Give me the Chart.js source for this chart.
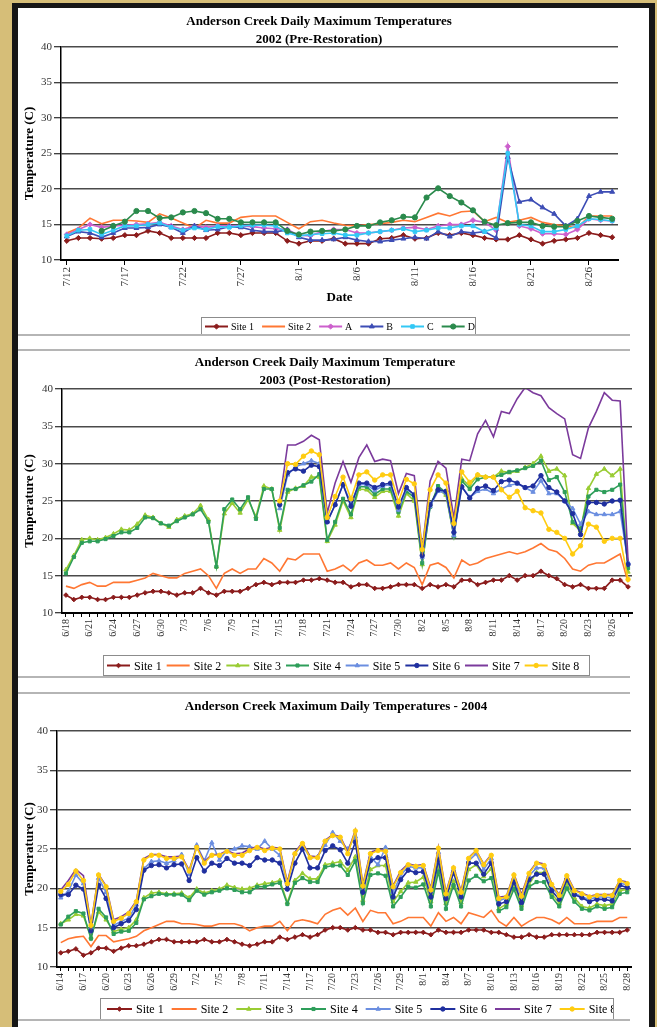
<!DOCTYPE html>
<html>
<head>
<meta charset="utf-8">
<script src="https://cdn.jsdelivr.net/npm/chart.js@4.4.0/dist/chart.umd.min.js"></script>
<style>
  html, body { margin: 0; padding: 0; }
  body { width: 657px; height: 1027px; background: #d6be78; position: relative; overflow: hidden; }
  #frame { position: absolute; left: 12px; top: 3px; width: 631px; height: 1040px; background: #fff;
           border-style: solid; border-color: #161616; border-width: 5px 6px 0 6px; }
  canvas { position: absolute; left: 18px; }
  .sep { position: absolute; left: 18px; width: 612px; height: 2px; background: #b5b5b5; }
</style>
</head>
<body>
<div id="frame"></div>
<canvas id="c2002" width="631" height="327" style="top:8px"></canvas>
<canvas id="c2003" width="631" height="327" style="top:350px"></canvas>
<canvas id="c2004" width="631" height="327" style="top:693px"></canvas>
<div class="sep" style="top:334px"></div>
<div class="sep" style="top:349px"></div>
<div class="sep" style="top:676px"></div>
<div class="sep" style="top:692px"></div>
<div class="sep" style="top:1019px"></div>
<script>
// ---------- 2002 (7/12 - 8/28) ----------
const site1_2002 = [12.7,13.1,13.1,13.0,13.1,13.5,13.5,14.1,13.8,13.1, 13.1,13.1,13.1,13.8,13.8,13.5,13.8,13.8,13.8,12.7,
  12.3,12.7,12.7,13.0,12.3,12.3,12.3,13.0,13.1,13.5, 13.0,13.1,13.8,13.5,13.8,13.5,13.1,12.9,12.9,13.5,
  12.9,12.3,12.7,12.9,13.1,13.8,13.5,13.2];
const site2_2002 = [13.8,14.5,15.9,15.1,15.6,15.6,15.5,15.3,16.5,15.9, 15.2,14.5,15.6,15.2,15.2,16.0,16.2,16.2,16.2,15.3,
  14.4,15.4,15.6,15.2,14.9,14.8,15.0,15.1,15.3,15.6, 15.4,16.0,16.6,16.2,16.8,16.9,15.4,16.0,15.3,15.6,
  16.0,15.3,15.0,14.8,14.5,16.2,16.2,16.2];
const siteA_2002 = [13.6,14.3,15.0,14.6,14.8,14.9,15.0,15.1,15.3,14.8, 14.3,14.8,14.6,14.8,14.8,14.8,14.7,14.5,14.4,14.3,
  13.5,13.4,14.0,14.3,14.3,13.8,13.8,14.0,14.2,14.5, 14.6,14.3,14.8,15.0,15.0,15.6,15.3,14.2,26.0,14.8,
  14.4,13.7,13.7,13.6,14.3,15.8,15.6,15.5];
const siteB_2002 = [13.3,14.0,13.8,13.2,13.8,14.5,14.5,14.6,15.0,14.6, 13.8,14.8,14.2,14.3,14.7,14.6,14.2,14.0,14.0,14.2,
  13.2,12.8,12.8,12.9,13.2,12.8,12.6,12.6,12.8,13.0, 13.2,13.0,14.0,13.3,14.0,13.8,14.0,13.1,24.5,18.2,
  18.5,17.4,16.5,14.8,15.8,19.0,19.6,19.6];
const siteC_2002 = [13.4,14.2,14.3,13.6,14.2,14.8,14.8,15.0,15.2,14.6, 14.2,14.5,14.3,14.7,14.6,14.8,14.9,14.9,14.8,13.8,
  13.4,13.6,13.7,13.8,13.5,13.5,13.8,14.0,14.2,14.4, 14.0,14.2,14.5,14.5,14.8,14.8,14.0,14.5,25.0,15.0,
  14.8,14.0,14.0,14.3,14.8,15.8,15.7,15.5];
const siteD_2002 = [null,null,null,14.1,14.8,15.4,16.9,16.9,15.9,16.0, 16.7,16.9,16.6,15.8,15.8,15.3,15.3,15.3,15.3,14.1,
  13.6,14.0,14.1,14.1,14.3,14.8,14.8,15.3,15.6,16.1, 16.0,18.8,20.1,19.0,18.1,17.0,15.4,14.9,15.2,15.3,
  15.3,14.8,14.7,14.7,15.5,16.2,16.0,15.8];

// ---------- 2003 (6/18 - 8/28) ----------
const before715 = [null,null,null,null,null,null,null,null,null,null,null,null,null,null,null,null,null,null,null,null,null,null,null,null,null,null,null];
const site1_2003 = [12.4,11.8,12.1,12.1,11.8,11.8,12.1,12.1,12.1,12.4, 12.7,12.9,12.9,12.7,12.4,12.7,12.7,13.3,12.7,12.4,
  12.9,12.9,12.9,13.3,13.8,14.1,13.8,14.1,14.1,14.1, 14.4,14.4,14.6,14.4,14.1,14.1,13.5,13.8,13.8,13.3,
  13.3,13.5,13.8,13.8,13.8,13.3,13.8,13.5,13.8,13.5, 14.4,14.4,13.8,14.1,14.4,14.4,15.0,14.4,15.0,15.0,
  15.6,15.0,14.6,13.8,13.5,13.8,13.3,13.3,13.3,14.4, 14.4,13.5];
const site2_2003 = [13.6,13.3,13.8,14.1,13.6,13.6,14.1,14.1,14.1,14.4, 14.7,15.3,15.0,14.7,14.7,15.3,15.6,15.9,15.0,13.3,
  15.3,15.9,15.3,15.9,15.9,17.3,16.7,15.6,17.3,17.1, 17.9,17.9,17.9,15.6,15.9,16.4,15.6,16.7,17.1,16.4,
  16.4,16.7,15.9,16.7,16.1,13.8,16.4,16.7,16.1,14.7, 17.1,16.4,16.7,17.3,17.6,17.9,18.2,17.9,18.2,18.7,
  19.3,18.5,18.2,17.3,15.9,15.6,16.4,16.7,16.7,17.3, 17.9,14.1];
const site3_2003 = [15.8,17.7,19.8,20.0,19.8,20.1,20.6,21.2,21.1,21.9, 23.1,22.8,22.0,21.5,22.5,23.0,23.3,24.4,22.5,16.2,
  23.3,24.7,23.4,25.2,22.9,27.0,26.6,
  21.1,26.2,26.7,27.0,28.2,28.2,19.6,21.8,25.0,22.8, 26.6,26.5,25.5,26.3,26.3,23.0,26.0,25.0,16.5,24.5,
  26.6,25.8,20.3,28.0,27.0,28.5,28.2,28.2,29.0,28.8, 29.0,29.5,30.0,31.0,29.0,29.3,28.4,22.0,21.0,26.7,
  28.6,29.3,28.4,29.3,15.5];
const site4_2003 = [15.3,17.5,19.4,19.6,19.6,19.9,20.3,20.8,20.8,21.4, 22.8,22.7,22.0,21.7,22.3,22.8,23.2,23.9,22.2,16.2,
  23.9,25.2,23.9,25.5,22.6,26.6,26.6,
  21.4,26.5,26.6,27.1,27.6,28.6,19.8,22.2,25.3,23.2, 26.9,26.9,25.9,26.6,26.6,23.5,26.3,25.5,16.7,24.2,
  27.0,26.1,20.3,27.7,26.6,27.9,28.2,28.2,28.5,28.9, 29.1,29.4,29.7,30.4,27.8,28.2,26.2,22.2,21.3,25.6,
  26.5,26.2,26.5,27.2,16.0];
const site5_2003 = before715.concat([24.0,28.5,29.6,30.0,30.4,30.0,22.2,24.5,27.2,24.7, 27.2,27.2,26.4,27.0,27.2,23.8,26.6,25.9,17.5,24.3,
  26.3,26.1,20.4,26.9,25.5,26.3,26.6,26.0,26.6,27.1, 27.3,26.8,26.2,27.7,26.0,26.0,25.0,24.0,21.9,23.6,
  23.2,23.2,23.2,23.6,16.8]);
const site6_2003 = before715.concat([24.5,28.8,29.3,29.0,29.8,29.6,22.2,24.5,27.2,24.3, 27.4,27.4,26.8,27.2,27.4,24.2,26.8,25.8,17.7,24.5,
  26.5,26.3,20.8,26.9,25.4,26.7,27.0,26.4,27.6,27.8, 27.4,26.8,27.0,28.4,26.8,26.2,25.0,23.3,20.5,24.8,
  24.8,24.6,25.0,25.1,16.5]);
const site7_2003 = before715.concat([25.0,32.5,32.5,33.0,33.8,33.2,23.4,27.4,30.3,27.5, 30.8,32.5,30.3,30.6,30.4,26.0,28.7,28.4,18.5,27.7,
  30.3,29.4,22.7,30.6,30.4,34.0,35.8,33.6,37.0,36.7, 38.7,40.2,39.5,39.1,37.5,36.7,36.0,31.2,30.7,34.8,
  37.0,39.5,38.5,38.4,17.0]);
const site8_2003 = before715.concat([25.0,30.0,29.9,31.0,31.7,31.2,22.8,25.6,28.2,25.3, 28.5,28.9,27.8,28.5,28.5,24.9,27.9,27.3,18.5,26.5,
  28.5,27.4,22.0,28.9,27.5,28.5,28.2,28.2,26.5,25.5, 26.3,24.1,23.7,23.4,21.2,20.8,20.0,17.9,19.0,21.9,
  21.5,19.6,20.0,20.0,14.5]);

// ---------- 2004 (6/14 - 8/28) ----------
const site1_2004 = [11.8,12.0,12.3,11.5,11.8,12.4,12.4,12.0,12.4,12.7, 12.7,12.9,13.2,13.5,13.5,13.2,13.2,13.2,13.2,13.5,
  13.2,13.2,13.5,13.2,12.9,12.7,12.9,13.2,13.2,13.8, 13.5,13.8,14.1,13.8,14.1,14.7,15.0,15.0,14.7,15.0,
  14.7,14.7,14.4,14.4,14.1,14.4,14.4,14.4,14.4,14.1, 14.7,14.4,14.4,14.4,14.7,14.7,14.7,14.4,14.4,14.1,
  13.8,13.8,14.1,13.8,13.8,14.1,14.1,14.1,14.1,14.1, 14.1,14.4,14.4,14.4,14.4,14.7];
const site2_2004 = [13.1,13.6,13.8,13.9,12.6,14.0,14.0,13.2,13.4,13.6, 13.9,14.6,15.0,15.4,15.8,15.8,15.5,15.5,15.4,15.2,
  15.2,15.5,15.5,15.5,15.2,14.6,15.0,15.2,15.2,15.8, 14.6,15.8,16.0,15.8,15.5,16.7,17.2,17.5,16.6,17.5,
  15.8,17.2,16.9,16.9,15.5,15.8,16.3,16.3,16.3,15.2, 16.9,15.8,16.3,15.5,16.9,16.6,16.3,17.2,15.8,15.2,
  16.3,15.2,15.8,16.3,16.3,16.0,15.5,16.3,15.5,15.5, 15.5,15.8,15.8,15.8,16.3,16.3];
const site3_2004 = [15.5,16.0,16.7,16.5,13.8,17.0,16.0,14.5,14.8,15.0, 16.0,18.8,19.4,19.5,19.3,19.3,19.4,18.8,19.9,19.4,
  19.7,19.9,20.4,20.1,19.9,20.0,20.4,20.6,20.7,21.0, 18.2,21.0,21.9,21.2,21.2,23.0,23.2,23.4,22.3,24.0,
  18.5,22.4,22.9,22.9,18.3,19.6,20.7,20.8,21.4,18.3, 22.8,18.1,20.9,18.2,22.4,23.0,21.5,22.5,17.4,18.0,
  20.5,17.8,20.5,22.0,22.0,19.3,18.1,20.6,18.8,17.7, 17.5,18.0,17.8,18.0,19.7,19.9];
const site4_2004 = [15.4,16.4,17.1,16.8,13.6,17.4,16.3,14.2,14.5,14.6, 15.6,18.6,19.0,19.3,19.2,19.2,19.2,18.5,19.7,19.2,
  19.5,19.7,20.0,19.8,19.5,19.5,20.2,20.2,20.5,20.7, 18.0,20.7,21.3,20.8,20.8,22.7,22.9,22.9,21.7,23.5,
  18.1,21.7,21.9,21.6,17.7,18.9,20.2,20.1,20.5,17.7, 22.1,17.4,20.4,17.7,21.0,21.6,20.9,21.3,17.1,17.6,
  19.9,17.4,20.2,20.8,20.8,18.9,17.7,20.0,18.3,17.4, 17.2,17.7,17.4,17.6,19.3,19.5];
const site5_2004 = [18.8,19.6,21.7,20.6,15.0,21.3,19.5,15.3,15.8,16.2, 17.9,22.5,23.4,23.5,23.2,23.5,24.3,21.8,25.5,23.5,
  25.8,23.6,24.8,25.0,25.4,25.3,25.0,26.0,25.0,24.2, 20.6,24.4,25.5,23.9,24.0,25.5,27.1,26.0,25.0,26.6,
  20.0,24.0,23.0,25.2,19.5,21.6,22.8,22.6,22.6,19.6, 24.6,19.1,22.4,19.3,23.5,24.4,22.4,23.8,18.4,18.8,
  21.3,18.9,21.6,22.6,22.6,20.2,19.0,21.4,19.4,18.9, 18.6,18.9,18.9,18.8,20.7,20.4];
const site6_2004 = [19.2,19.2,20.4,19.9,14.6,20.4,18.7,15.0,15.5,15.9, 17.3,22.3,22.9,23.0,22.6,23.0,23.1,21.0,23.9,22.2,
  23.2,22.9,23.8,23.2,23.2,22.9,23.9,23.6,23.6,23.2, 19.9,23.2,25.0,22.6,22.6,24.8,25.4,24.9,23.2,25.9,
  19.5,23.5,23.9,23.9,18.9,21.1,22.3,22.0,22.1,18.9, 23.6,18.7,22.0,18.9,23.2,23.2,21.8,23.2,18.0,18.3,
  20.8,18.2,21.1,21.8,21.8,19.7,18.6,21.1,19.2,18.8, 18.3,18.6,18.6,18.4,20.4,20.1];
const site7_2004 = [19.8,21.0,22.4,21.6,15.4,21.8,20.3,16.0,16.4,17.0, 18.4,23.8,24.3,24.3,24.0,24.0,24.1,22.3,25.3,23.4,
  24.3,24.3,24.8,24.4,24.5,25.0,25.3,25.0,25.2,25.1, 20.8,24.6,25.8,24.1,24.0,26.1,26.8,26.6,24.6,27.4,
  20.5,24.6,24.9,24.8,20.3,22.2,23.1,22.9,23.0,20.0, 25.2,19.5,22.7,19.7,23.9,24.8,23.1,24.3,18.9,19.0,
  21.8,19.2,22.0,23.3,23.1,20.6,19.2,21.7,19.8,19.4, 19.0,19.2,19.2,19.2,21.0,20.8];
const site8_2004 = [19.6,20.5,22.2,21.0,15.3,21.7,20.2,15.8,16.2,16.8, 18.3,23.6,24.2,24.2,23.8,23.8,24.0,22.2,25.2,23.2,
  24.2,24.2,24.7,24.2,24.2,24.8,25.2,24.8,25.1,25.0, 20.6,24.4,25.7,23.9,23.9,26.0,26.7,26.5,24.4,27.3,
  20.3,24.4,24.8,24.7,20.2,22.0,23.0,22.8,22.9,19.8, 25.1,19.3,22.6,19.5,23.8,24.8,23.0,24.2,18.7,18.9,
  21.7,19.0,21.9,23.2,22.9,20.5,19.1,21.6,19.7,19.3, 18.9,19.1,19.1,19.1,21.0,20.6];

const SERIF = '"Liberation Serif", "Times New Roman", serif';

// consecutive day labels, "m/d"
function dayLabels(year, month, day, count) {
  const out = [];
  const d = new Date(year, month - 1, day);
  for (let i = 0; i < count; i++) {
    out.push((d.getMonth() + 1) + '/' + d.getDate());
    d.setDate(d.getDate() + 1);
  }
  return out;
}

const labels2002 = dayLabels(2002, 7, 12, site1_2002.length);
const labels2003 = dayLabels(2003, 6, 18, site1_2003.length);
const labels2004 = dayLabels(2004, 6, 14, site1_2004.length);

function series(label, data, color, style, radius) {
  return {
    label: label, data: data,
    borderColor: color, backgroundColor: color,
    pointStyle: style || 'circle', pointRadius: style ? radius : 0,
    pointBorderWidth: 1, borderWidth: 1.6, tension: 0, spanGaps: false
  };
}

// titles + boxed legend (line with marker in the middle, like the spreadsheet)
const panelDeco = {
  id: 'panelDeco',
  afterDraw(chart, args, o) {
    const ctx = chart.ctx;
    ctx.save();
    ctx.fillStyle = '#000';
    ctx.textAlign = 'center';
    ctx.textBaseline = 'middle';
    ctx.font = 'bold 13px ' + SERIF;
    o.title.forEach((t, i) => ctx.fillText(t, o.titleX, o.titleY[i]));

    const b = o.box;
    ctx.fillStyle = '#fff';
    ctx.fillRect(b.x, b.y, b.w, b.h);
    ctx.strokeStyle = '#8c8c8c';
    ctx.lineWidth = 1;
    ctx.strokeRect(b.x + 0.5, b.y + 0.5, b.w - 1, b.h - 1);
    ctx.beginPath();
    ctx.rect(b.x + 1, b.y + 1, b.w - 2, b.h - 2);
    ctx.clip();
    ctx.font = b.font + 'px ' + SERIF;
    ctx.textAlign = 'left';
    const cy = b.y + b.h / 2;
    let x = b.x + b.start;
    chart.data.datasets.forEach(ds => {
      ctx.strokeStyle = ds.borderColor;
      ctx.fillStyle = ds.borderColor;
      ctx.lineWidth = 2;
      ctx.beginPath();
      ctx.moveTo(x, cy);
      ctx.lineTo(x + b.line, cy);
      ctx.stroke();
      if (ds.pointRadius > 0) {
        ctx.lineWidth = 1;
        Chart.helpers.drawPoint(ctx, { pointStyle: ds.pointStyle, radius: ds.pointRadius, borderWidth: 1, rotation: 0 }, x + b.line / 2, cy);
      }
      x += b.line + b.gap;
      ctx.fillStyle = '#000';
      ctx.fillText(ds.label, x, cy + 1);
      x += ctx.measureText(ds.label).width + b.space;
    });
    ctx.restore();
  }
};

function makeChart(id, c) {
  const n = c.datasets.length;
  c.datasets.forEach((ds, i) => { ds.order = n - i; });
  return new Chart(document.getElementById(id), {
    type: 'line',
    data: { labels: c.labels, datasets: c.datasets },
    options: {
      responsive: false,
      animation: false,
      layout: { padding: c.padding },
      plugins: {
        legend: { display: false },
        tooltip: { enabled: false },
        panelDeco: c.deco
      },
      scales: {
        x: {
          offset: true,
          ticks: {
            autoSkip: false, minRotation: 90, maxRotation: 90,
            color: '#333', font: { family: SERIF, size: c.xFont }, padding: 2,
            callback: (v, i) => (i % c.every === 0 ? c.labels[i] : '')
          },
          grid: {
            drawOnChartArea: false, lineWidth: 1, tickLength: c.tickLen,
            color: '#000',
            tickColor: ctx => (c.allTicks || ctx.index % c.every === 0 ? '#000' : 'rgba(0,0,0,0)')
          },
          border: { color: '#000', width: 2 },
          title: c.xTitle
            ? { display: true, text: c.xTitle, color: '#000', font: { family: SERIF, size: 13, weight: 'bold' }, padding: { top: 2, bottom: 4 } }
            : { display: false },
          afterFit: s => { s.height = c.xHeight; }
        },
        y: {
          min: 10, max: 40,
          ticks: { stepSize: 5, color: '#333', font: { family: SERIF, size: 11 }, padding: 2 },
          grid: { color: '#4a4a4a', lineWidth: 1.5, tickColor: '#000', tickLength: 7, tickWidth: 1 },
          border: { color: '#000', width: 1.5 },
          title: { display: true, text: 'Temperature (C)', color: '#000', font: { family: SERIF, size: 13, weight: 'bold' }, padding: { top: 4, bottom: 0 } },
          afterFit: s => { s.width = c.yWidth; }
        }
      }
    },
    plugins: [panelDeco]
  });
}

makeChart('c2002', {
  labels: labels2002,
  datasets: [
    series('Site 1', site1_2002, '#8b1c1c', 'rectRot', 2.6),
    series('Site 2', site2_2002, '#ff7733', null, 0),
    series('A', siteA_2002, '#cc5fcc', 'rectRot', 2.6),
    series('B', siteB_2002, '#3d4db5', 'triangle', 2.8),
    series('C', siteC_2002, '#33c8f5', 'rect', 2.5),
    series('D', siteD_2002, '#2a8a4c', 'circle', 2.6)
  ],
  padding: { left: 0, right: 31, top: 39, bottom: 26 },
  yWidth: 43, xHeight: 49, xFont: 11, tickLen: 5, every: 5, allTicks: false, xTitle: 'Date',
  deco: {
    title: ['Anderson Creek Daily Maximum Temperatures', '2002 (Pre-Restoration)'],
    titleX: 301, titleY: [14, 32],
    box: { x: 183, y: 309, w: 275, h: 19, font: 10, start: 4, line: 23, gap: 3, space: 8 }
  }
});

makeChart('c2003', {
  labels: labels2003,
  datasets: [
    series('Site 1', site1_2003, '#8b1c1c', 'rectRot', 2.3),
    series('Site 2', site2_2003, '#ff7733', null, 0),
    series('Site 3', site3_2003, '#99cc33', 'triangle', 2.5),
    series('Site 4', site4_2003, '#2e9e5a', 'rect', 2.2),
    series('Site 5', site5_2003, '#6b8ee0', 'triangle', 2.5),
    series('Site 6', site6_2003, '#1f2f9f', 'circle', 2.2),
    series('Site 7', site7_2003, '#7b3a9c', null, 0),
    series('Site 8', site8_2003, '#ffcc11', 'circle', 2.2)
  ],
  padding: { left: 0, right: 17, top: 39, bottom: 34 },
  yWidth: 44, xHeight: 30, xFont: 10, tickLen: 4, every: 3, allTicks: true, xTitle: null,
  deco: {
    title: ['Anderson Creek Daily Maximum Temperature', '2003 (Post-Restoration)'],
    titleX: 307, titleY: [13, 31],
    box: { x: 85, y: 305, w: 487, h: 21, font: 12, start: 4, line: 23, gap: 4, space: 5 }
  }
});

makeChart('c2004', {
  labels: labels2004,
  datasets: [
    series('Site 1', site1_2004, '#8b1c1c', 'rectRot', 2.3),
    series('Site 2', site2_2004, '#ff7733', null, 0),
    series('Site 3', site3_2004, '#99cc33', 'triangle', 2.5),
    series('Site 4', site4_2004, '#2e9e5a', 'rect', 2.2),
    series('Site 5', site5_2004, '#6b8ee0', 'triangle', 2.5),
    series('Site 6', site6_2004, '#1f2f9f', 'circle', 2.2),
    series('Site 7', site7_2004, '#7b3a9c', null, 0),
    series('Site 8', site8_2004, '#ffcc11', 'circle', 2.2)
  ],
  padding: { left: 0, right: 18, top: 38, bottom: 25 },
  yWidth: 39, xHeight: 28, xFont: 10, tickLen: 4, every: 3, allTicks: true, xTitle: null,
  deco: {
    title: ['Anderson Creek Maximum Daily Temperatures - 2004'],
    titleX: 318, titleY: [14],
    box: { x: 82, y: 305, w: 514, h: 22, font: 12, start: 7, line: 25, gap: 4, space: 8 }
  }
});
</script>
</body>
</html>
